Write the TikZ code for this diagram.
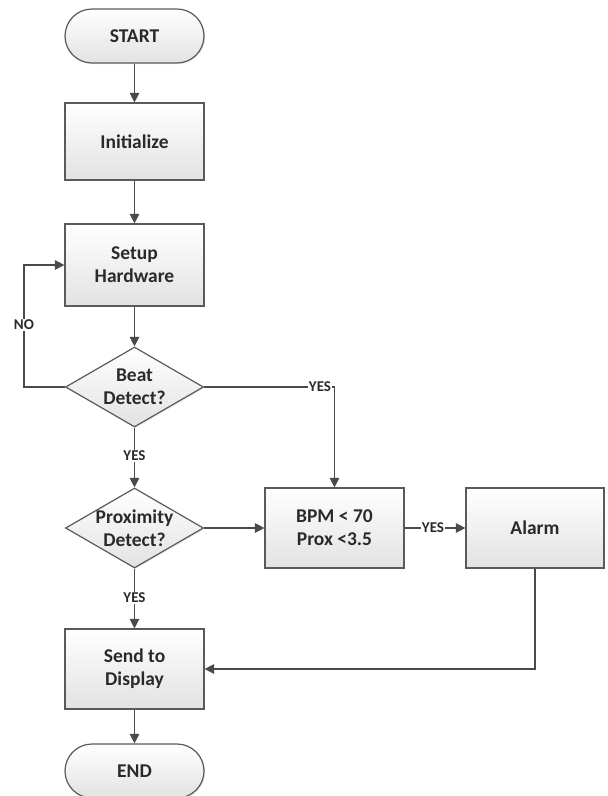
\documentclass[tikz,border=0pt]{standalone}
\usepackage{fontspec}
\setmainfont{Carlito}
\usetikzlibrary{arrows.meta,shapes.geometric,shadows}
\definecolor{edge}{HTML}{5A5A5A}
\definecolor{wire}{HTML}{4A4A4A}
\definecolor{ink}{HTML}{2A2A2A}
\definecolor{boxlo}{HTML}{E2E2E2}
\tikzset{
  base/.style={draw=edge, line width=1.2pt, top color=white, bottom color=boxlo,
    drop shadow={opacity=0.18, shadow xshift=1.2pt, shadow yshift=-1.2pt}},
  term/.style={base, rounded corners=27pt, minimum width=139pt, minimum height=54pt,
    font=\fontsize{19.5}{23}\selectfont\bfseries, text=ink},
  procbox/.style={base, rectangle, minimum width=139pt, minimum height=80pt, align=center,
    font=\fontsize{19.5}{23}\selectfont\bfseries, text=ink},
  decbox/.style={base, diamond, inner sep=0pt, minimum width=138pt, minimum height=80pt, aspect=1.725},
  dectext/.style={align=center, font=\fontsize{19.5}{23}\selectfont\bfseries, text=ink, inner sep=0pt},
  lbl/.style={fill=white, inner sep=1pt, font=\fontsize{15}{16}\selectfont\bfseries, text=ink},
  arr/.style={draw=wire, line width=1.3pt, -{Triangle[length=9.5pt,width=9.5pt]}},
  ln/.style={draw=wire, line width=1.3pt}
}
\begin{document}
\begin{tikzpicture}[x=1pt,y=-1pt]
\useasboundingbox (0,0) rectangle (608,796);
\node[term] (start) at (134.5,36) {START};
\node[procbox, minimum height=77pt] (init) at (134.5,141.5) {Initialize};
\node[procbox, minimum height=82pt] (setup) at (134.5,265) {Setup\\Hardware};
\node[decbox] (beat) at (134.5,387) {};
\node[dectext] (beattxt) at (beat) {Beat\\Detect?};
\node[decbox] (prox) at (134.5,528) {};
\node[dectext] (proxtxt) at (prox) {Proximity\\Detect?};
\node[procbox] (bpm) at (334.5,528) {BPM < 70\\Prox <3.5};
\node[procbox, minimum width=138pt] (alarm) at (535,528) {Alarm};
\node[procbox] (send) at (134.5,669) {Send to\\Display};
\node[term] (end) at (134.5,771) {END};
\coordinate (noc) at (24,265);

\draw[arr] (start) -- (init);
\draw[arr] (init) -- (setup);
\draw[arr] (setup) -- (beat.north);
\draw[arr] (beat.west) -| (noc) -- (setup.west);
\draw[arr] (beat.east) -| (bpm.north);
\draw[arr] (beat.south) -- (prox.north);
\draw[arr] (prox.east) -- (bpm.west);
\draw[arr] (bpm.east) -- (alarm.west);
\draw[arr] (prox.south) -- (send.north);
\draw[arr] (alarm.south) |- (send.east);
\draw[arr] (send) -- (end);

\node[lbl] (lno) at (24,325) {NO};
\node[lbl] (lyes1) at (320,387) {YES};
\node[lbl] (lyes2) at (134.5,456) {YES};
\node[lbl] (lyes3) at (433,528) {YES};
\node[lbl] (lyes4) at (134.5,598) {YES};
\end{tikzpicture}
\end{document}
